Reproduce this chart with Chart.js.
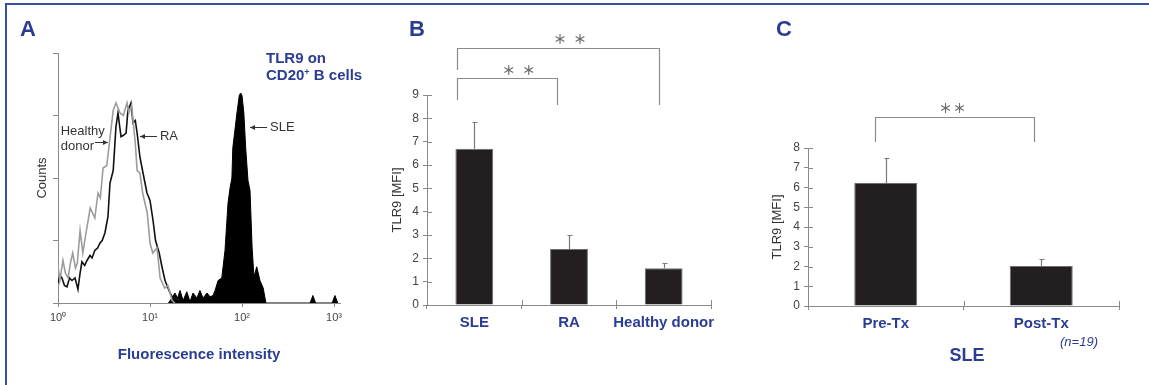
<!DOCTYPE html>
<html lang="en">
<head>
<meta charset="UTF-8">
<title>TLR9 on CD20+ B cells</title>
<script src="https://cdn.jsdelivr.net/npm/chart.js@4"></script>
<style>
  body { margin: 0; background: #fff; font-family: "Liberation Sans", Arial, sans-serif; }
  #fig { position: relative; width: 1149px; height: 385px; overflow: hidden; }
  #frame { position: absolute; left: 5px; top: 3px; right: -10px; bottom: -10px;
           border-top: 2px solid #3b4f9f; border-left: 2px solid #3b4f9f; }
  canvas { position: absolute; top: 0; }
  .lbl { position: absolute; color: #2b3d93; font-weight: bold; white-space: nowrap; line-height: 1; }
  .panel { font-size: 22px; }
</style>
</head>
<body>
<div id="fig">
  <div id="frame"></div>
  <canvas id="histChart" width="380" height="385" style="left:0"></canvas>
  <canvas id="groupChart" width="380" height="385" style="left:380px"></canvas>
  <canvas id="txChart" width="389" height="385" style="left:760px"></canvas>

  <div class="lbl panel" style="left:20px;top:18px">A</div>
  <div class="lbl panel" style="left:409px;top:18px">B</div>
  <div class="lbl panel" style="left:776px;top:18px">C</div>
  <div class="lbl" style="left:266px;top:51px;font-size:15px;line-height:14px">TLR9 on<br>CD20<sup style="font-size:9px;vertical-align:5px">+</sup> B cells</div>
  <div class="lbl" style="left:967px;top:346px;font-size:18px;transform:translateX(-50%)">SLE</div>
  <div class="lbl" style="left:1079px;top:335px;font-size:13px;font-weight:normal;font-style:italic;transform:translateX(-50%)">(n=19)</div>
</div>

<script>
  // Flow cytometry histograms: x in log10 fluorescence units, y in relative counts
  const healthyLog = [0, 0.02, 0.054, 0.08, 0.11, 0.135, 0.16, 0.19, 0.21, 0.24, 0.27, 0.30, 0.35, 0.40,
    0.435, 0.46, 0.49, 0.53, 0.565, 0.60, 0.63, 0.675, 0.71, 0.75, 0.77, 0.80, 0.84, 0.86, 0.89, 0.92,
    0.97, 1.0, 1.03, 1.076, 1.11, 1.16, 1.196, 1.24, 1.27];
  const healthyCounts = [15, 9, 17, 12, 10, 16, 20, 14, 16, 29, 20, 27, 38, 34,
    44, 42, 54, 55, 66, 77, 80, 76, 75, 80, 76, 79, 64, 53, 52, 44,
    36, 24, 20, 22, 10, 6, 7, 1, 0];

  const raLog = [0, 0.02, 0.043, 0.07, 0.098, 0.125, 0.152, 0.185, 0.217, 0.24, 0.26, 0.29, 0.315, 0.348,
    0.37, 0.40, 0.43, 0.457, 0.48, 0.51, 0.543, 0.565, 0.60, 0.63, 0.652, 0.685, 0.707, 0.74, 0.76,
    0.793, 0.815, 0.84, 0.86, 0.89, 0.924, 0.967, 1.0, 1.033, 1.06, 1.076, 1.10, 1.13, 1.163, 1.217,
    1.25, 1.326];
  const raCounts = [8, 11, 10, 7, 6.5, 10, 9, 10, 5.5, 12, 16.5, 15, 17, 19,
    18, 21, 22, 24, 25, 28, 34.5, 48, 53, 70.5, 76, 66.5, 67, 68, 77,
    80, 72, 73, 68, 58.5, 52, 44, 41, 33, 25, 23, 20, 14.5, 9, 4,
    2, 1];

  const sleLog = [1.2, 1.24, 1.27, 1.30, 1.326, 1.36, 1.40, 1.435, 1.467, 1.51, 1.543, 1.576, 1.62, 1.652,
    1.685, 1.707, 1.74, 1.78, 1.815, 1.848, 1.87, 1.89, 1.90, 1.945, 1.97, 1.985, 2.0, 2.02, 2.04,
    2.065, 2.087, 2.11, 2.13, 2.16, 2.195, 2.23, 2.26, 2.74, 2.77, 2.80, 2.98, 3.01, 3.04];
  const sleCounts = [0, 2, 4, 2, 5, 1, 4.5, 0.5, 4, 2, 5, 2, 4, 2.5,
    3, 5, 9, 10, 21, 40, 46, 50, 62, 76, 83, 84, 83, 76, 62,
    49, 45, 22, 10.5, 14.5, 9, 6, 0, 0, 3, 0, 0, 3, 0];

  const decades = [0, 1, 2, 3];
  const decadeLabels = ['10\u2070', '10\u00b9', '10\u00b2', '10\u00b3'];

  // TLR9 MFI by patient group (mean and error)
  const groupNames = ['SLE', 'RA', 'Healthy donor'];
  const groupMfi = [6.7, 2.4, 1.57];
  const groupErr = [1.15, 0.6, 0.23];

  // SLE patients before / after treatment
  const txNames = ['Pre-Tx', 'Post-Tx'];
  const txMfi = [6.23, 2.03];
  const txErr = [1.26, 0.34];

  const blue = '#2b3d93';
  const axisGray = '#8a8a8a';
  const textGray = '#3c3c3c';

  Chart.defaults.font.family = '"Liberation Sans", Arial, sans-serif';
  Chart.defaults.color = textGray;

  const pairs = (xs, ys) => xs.map((v, i) => ({ x: v, y: ys[i] }));
  const crisp = v => Math.round(v) + 0.5;

  // labelled arrows pointing at the histogram curves
  const flowLabels = {
    id: 'flowLabels',
    afterDatasetsDraw(chart, args, opts) {
      const { ctx, scales: { x, y } } = chart;
      ctx.save();
      ctx.font = '13px "Liberation Sans", Arial, sans-serif';
      ctx.fillStyle = ctx.strokeStyle = '#333';
      ctx.lineWidth = 1;
      ctx.textBaseline = 'middle';
      opts.items.forEach(it => {
        const tx = x.getPixelForValue(it.at[0]);
        const ty = crisp(y.getPixelForValue(it.at[1]));
        const dir = it.textSide === 'right' ? 1 : -1;
        const tail = tx + dir * it.len;
        ctx.beginPath();
        ctx.moveTo(tx, ty);
        ctx.lineTo(tail, ty);
        ctx.stroke();
        ctx.beginPath();
        ctx.moveTo(tx, ty);
        ctx.lineTo(tx + dir * 5, ty - 2.5);
        ctx.lineTo(tx + dir * 5, ty + 2.5);
        ctx.closePath();
        ctx.fill();
        ctx.textAlign = 'left';
        let x0 = tail + 3;
        if (dir < 0) x0 = tail - 1 - ctx.measureText(it.text[it.text.length - 1]).width;
        it.text.forEach((line, k) => ctx.fillText(line, x0, ty + it.dy[k]));
      });
      ctx.restore();
    }
  };

  // error whiskers on top of each bar
  const errorBars = {
    id: 'errorBars',
    afterDatasetsDraw(chart) {
      const { ctx, scales: { y } } = chart;
      const ds = chart.data.datasets[0];
      const meta = chart.getDatasetMeta(0);
      ctx.save();
      ctx.strokeStyle = '#7a7a7a';
      ctx.lineWidth = 1.2;
      meta.data.forEach((bar, i) => {
        const cx = crisp(bar.x);
        const top = crisp(y.getPixelForValue(ds.data[i] + ds.err[i]));
        ctx.beginPath();
        ctx.moveTo(cx, bar.y);
        ctx.lineTo(cx, top);
        ctx.moveTo(cx - 2, top);
        ctx.lineTo(cx + 3, top);
        ctx.stroke();
      });
      ctx.restore();
    }
  };

  // inner half of the crossing tick marks
  const innerTicks = {
    id: 'innerTicks',
    afterDraw(chart) {
      const { ctx, chartArea, scales: { x, y } } = chart;
      ctx.save();
      ctx.strokeStyle = axisGray;
      ctx.lineWidth = 1;
      ctx.beginPath();
      y.ticks.forEach((t, i) => {
        const py = crisp(y.getPixelForTick(i));
        ctx.moveTo(chartArea.left, py);
        ctx.lineTo(chartArea.left + 5, py);
      });
      for (let i = 0; i <= x.ticks.length; i++) {
        const px = crisp(x.getPixelForValue(i - 0.5));
        ctx.moveTo(px, chartArea.bottom);
        ctx.lineTo(px, chartArea.bottom - 5);
      }
      ctx.stroke();
      ctx.restore();
    }
  };

  // significance brackets with asterisks above the bars
  const brackets = {
    id: 'brackets',
    afterDraw(chart, args, opts) {
      const { ctx, scales: { x, y } } = chart;
      ctx.save();
      ctx.strokeStyle = '#8c8c8c';
      ctx.fillStyle = '#6f6f6f';
      ctx.lineWidth = 1.2;
      ctx.font = 'bold 13px "Noto Sans CJK JP", sans-serif';
      ctx.textAlign = 'center';
      ctx.textBaseline = 'middle';
      opts.items.forEach(b => {
        const x1 = crisp(x.getPixelForValue(b.from));
        const x2 = crisp(x.getPixelForValue(b.to));
        const top = crisp(y.getPixelForValue(b.level));
        ctx.beginPath();
        ctx.moveTo(x1, y.getPixelForValue(b.feet[0]));
        ctx.lineTo(x1, top);
        ctx.lineTo(x2, top);
        ctx.lineTo(x2, y.getPixelForValue(b.feet[1]));
        ctx.stroke();
        const sx = x.getPixelForValue(b.starsAt);
        const sy = y.getPixelForValue(b.starsLevel);
        ctx.fillText('\uff0a', sx - b.gap / 2, sy);
        ctx.fillText('\uff0a', sx + b.gap / 2, sy);
      });
      ctx.restore();
    }
  };

  // A: histogram overlay
  new Chart(document.getElementById('histChart'), {
    type: 'line',
    data: {
      datasets: [
        { label: 'Healthy donor', data: pairs(healthyLog, healthyCounts), borderColor: '#9c9c9c',
          borderWidth: 1.6, pointRadius: 0, fill: false },
        { label: 'RA', data: pairs(raLog, raCounts), borderColor: '#111', borderWidth: 1.6,
          pointRadius: 0, fill: false },
        { label: 'SLE', data: pairs(sleLog, sleCounts), borderColor: '#000', backgroundColor: '#000',
          borderWidth: 1, pointRadius: 0, fill: 'origin' }
      ]
    },
    options: {
      responsive: false, animation: false, events: [],
      layout: { padding: { left: 28, top: 53, right: 40, bottom: 20 } },
      plugins: {
        legend: { display: false }, tooltip: { enabled: false },
        flowLabels: {
          items: [
            { at: [0.543, 64.4], len: 13, textSide: 'left', text: ['Healthy', 'donor'], dy: [-11, 4] },
            { at: [0.891, 66.8], len: 17, textSide: 'right', text: ['RA'], dy: [0] },
            { at: [2.087, 70.4], len: 17, textSide: 'right', text: ['SLE'], dy: [0] }
          ]
        }
      },
      scales: {
        x: {
          type: 'linear', min: 0, max: 3.065,
          afterBuildTicks: s => { s.ticks = decades.map(v => ({ value: v })); },
          afterFit: s => { s.height = 62; },
          grid: { drawOnChartArea: false, tickLength: 4, color: axisGray },
          border: { color: axisGray },
          ticks: { padding: 4, color: '#444', font: { size: 11 }, maxRotation: 0,
                   callback: v => decadeLabels[decades.indexOf(v)] },
          title: { display: true, text: 'Fluorescence intensity', color: blue,
                   font: { size: 15, weight: 'bold' }, padding: { top: 0, bottom: 1 } }
        },
        y: {
          min: 0, max: 100,
          afterFit: s => { s.width = 30; },
          grid: { drawOnChartArea: false, tickLength: 5, color: axisGray },
          border: { color: axisGray },
          ticks: { display: false, stepSize: 25 },
          title: { display: true, text: 'Counts', color: '#333', font: { size: 13 },
                   padding: { top: 7, bottom: 0 } }
        }
      }
    },
    plugins: [flowLabels]
  });

  function barOptions(cfg) {
    return {
      responsive: false, animation: false, events: [],
      layout: { padding: cfg.padding },
      plugins: { legend: { display: false }, tooltip: { enabled: false }, brackets: { items: cfg.brackets } },
      scales: {
        x: {
          afterFit: s => { s.height = 40; },
          grid: { offset: true, drawOnChartArea: false, tickLength: 4, color: axisGray },
          border: { color: axisGray },
          ticks: { color: blue, font: { size: 15, weight: 'bold' }, padding: 5, maxRotation: 0,
                   autoSkip: false }
        },
        y: {
          min: 0, max: cfg.max,
          afterFit: s => { s.width = cfg.yWidth; },
          grid: { drawOnChartArea: false, tickLength: 4, color: axisGray },
          border: { color: axisGray },
          ticks: { stepSize: 1, padding: 4, color: '#444', font: { size: 12 } },
          title: { display: true, text: 'TLR9 [MFI]', color: '#333', font: { size: 13 },
                   padding: { top: 0, bottom: 0 } }
        }
      }
    };
  }

  // B: patient groups
  new Chart(document.getElementById('groupChart'), {
    type: 'bar',
    data: {
      labels: groupNames,
      datasets: [{ data: groupMfi, err: groupErr, backgroundColor: '#231f20', borderColor: '#6e6e6e',
                   borderWidth: 1, barPercentage: 0.4, categoryPercentage: 1 }]
    },
    options: barOptions({
      padding: { left: 10, top: 95, right: 49, bottom: 40 }, max: 9, yWidth: 37,
      brackets: [
        { from: -0.18, to: 1.95, level: 11.01, feet: [10.07, 8.57], starsAt: 1.01, starsLevel: 11.4, gap: 20 },
        { from: -0.18, to: 0.87, level: 9.73, feet: [8.79, 8.57], starsAt: 0.47, starsLevel: 10.07, gap: 20 }
      ]
    }),
    plugins: [errorBars, innerTicks, brackets]
  });

  // C: SLE before and after treatment
  new Chart(document.getElementById('txChart'), {
    type: 'bar',
    data: {
      labels: txNames,
      datasets: [{ data: txMfi, err: txErr, backgroundColor: '#231f20', borderColor: '#6e6e6e',
                   borderWidth: 1, barPercentage: 0.405, categoryPercentage: 1 }]
    },
    options: barOptions({
      padding: { left: 10, top: 148, right: 30, bottom: 39 }, max: 8, yWidth: 38,
      brackets: [
        { from: -0.07, to: 0.953, level: 9.57, feet: [8.3, 8.3], starsAt: 0.43, starsLevel: 10.03, gap: 14 }
      ]
    }),
    plugins: [errorBars, innerTicks, brackets]
  });
</script>
</body>
</html>
